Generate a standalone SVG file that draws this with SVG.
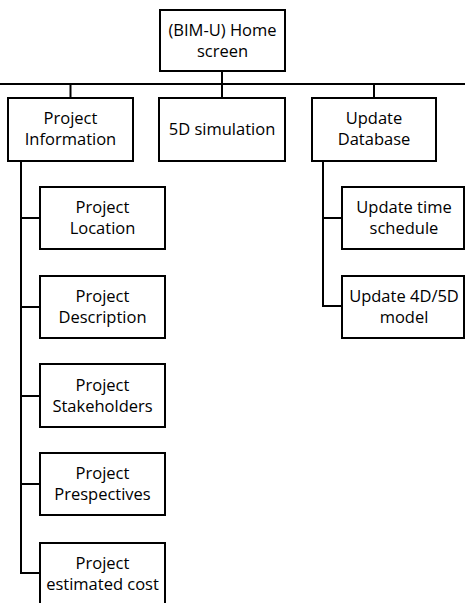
<svg xmlns="http://www.w3.org/2000/svg" width="465" height="603" viewBox="0 0 465 603">
  <style>
    .box { fill: #ffffff; stroke: #000000; stroke-width: 2; }
    .lbl { font-family: "Open Sans", "Liberation Sans", sans-serif; font-size: 16.5px; fill: #000000; text-anchor: middle; }
    .wire { fill: none; stroke: #000000; stroke-width: 2; }
  </style>
  <rect width="465" height="603" fill="#ffffff"/>

  <!-- connectors -->
  <g id="connectors">
    <line class="wire" x1="222" y1="71" x2="222" y2="98" stroke-width="3"/>
    <line class="wire" x1="0" y1="84" x2="465" y2="84"/>
    <line class="wire" x1="70.5" y1="84" x2="70.5" y2="98"/>
    <line class="wire" x1="374" y1="84" x2="374" y2="98"/>
    <!-- Project Information branch -->
    <polyline class="wire" points="21,161 21,573 40,573"/>
    <line class="wire" x1="21" y1="218" x2="40" y2="218"/>
    <line class="wire" x1="21" y1="307" x2="40" y2="307"/>
    <line class="wire" x1="21" y1="396" x2="40" y2="396"/>
    <line class="wire" x1="21" y1="484" x2="40" y2="484"/>
    <!-- Update Database branch -->
    <polyline class="wire" points="323,161 323,306 342,306"/>
    <line class="wire" x1="323" y1="218" x2="342" y2="218"/>
  </g>

  <g id="home">
    <rect class="box" x="160" y="10" width="125" height="61"/>
    <text class="lbl" x="222.5" y="36">(BIM-U) Home</text>
    <text class="lbl" x="222.5" y="57">screen</text>
  </g>

  <g id="project-information">
    <rect class="box" x="8" y="98" width="125" height="63"/>
    <text class="lbl" x="70.5" y="124">Project</text>
    <text class="lbl" x="70.5" y="145">Information</text>
  </g>

  <g id="simulation-5d">
    <rect class="box" x="159" y="98" width="126" height="63"/>
    <text class="lbl" x="222" y="135">5D simulation</text>
  </g>

  <g id="update-database">
    <rect class="box" x="312" y="98" width="124" height="63"/>
    <text class="lbl" x="374" y="124">Update</text>
    <text class="lbl" x="374" y="145">Database</text>
  </g>

  <g id="project-location">
    <rect class="box" x="40" y="187" width="125" height="62"/>
    <text class="lbl" x="102.5" y="213">Project</text>
    <text class="lbl" x="102.5" y="234">Location</text>
  </g>

  <g id="project-description">
    <rect class="box" x="40" y="276" width="125" height="62"/>
    <text class="lbl" x="102.5" y="302">Project</text>
    <text class="lbl" x="102.5" y="323">Description</text>
  </g>

  <g id="project-stakeholders">
    <rect class="box" x="40" y="364" width="125" height="63"/>
    <text class="lbl" x="102.5" y="391">Project</text>
    <text class="lbl" x="102.5" y="412">Stakeholders</text>
  </g>

  <g id="project-prespectives">
    <rect class="box" x="40" y="453" width="125" height="62"/>
    <text class="lbl" x="102.5" y="479">Project</text>
    <text class="lbl" x="102.5" y="500">Prespectives</text>
  </g>

  <g id="project-estimated-cost">
    <rect class="box" x="40" y="543" width="125" height="64"/>
    <text class="lbl" x="102.5" y="569">Project</text>
    <text class="lbl" x="102.5" y="590">estimated cost</text>
  </g>

  <g id="update-time-schedule">
    <rect class="box" x="342" y="187" width="122" height="62"/>
    <text class="lbl" x="404" y="213">Update time</text>
    <text class="lbl" x="404" y="234">schedule</text>
  </g>

  <g id="update-model">
    <rect class="box" x="342" y="276" width="122" height="62"/>
    <text class="lbl" x="404" y="302">Update 4D/5D</text>
    <text class="lbl" x="404" y="323">model</text>
  </g>
</svg>
